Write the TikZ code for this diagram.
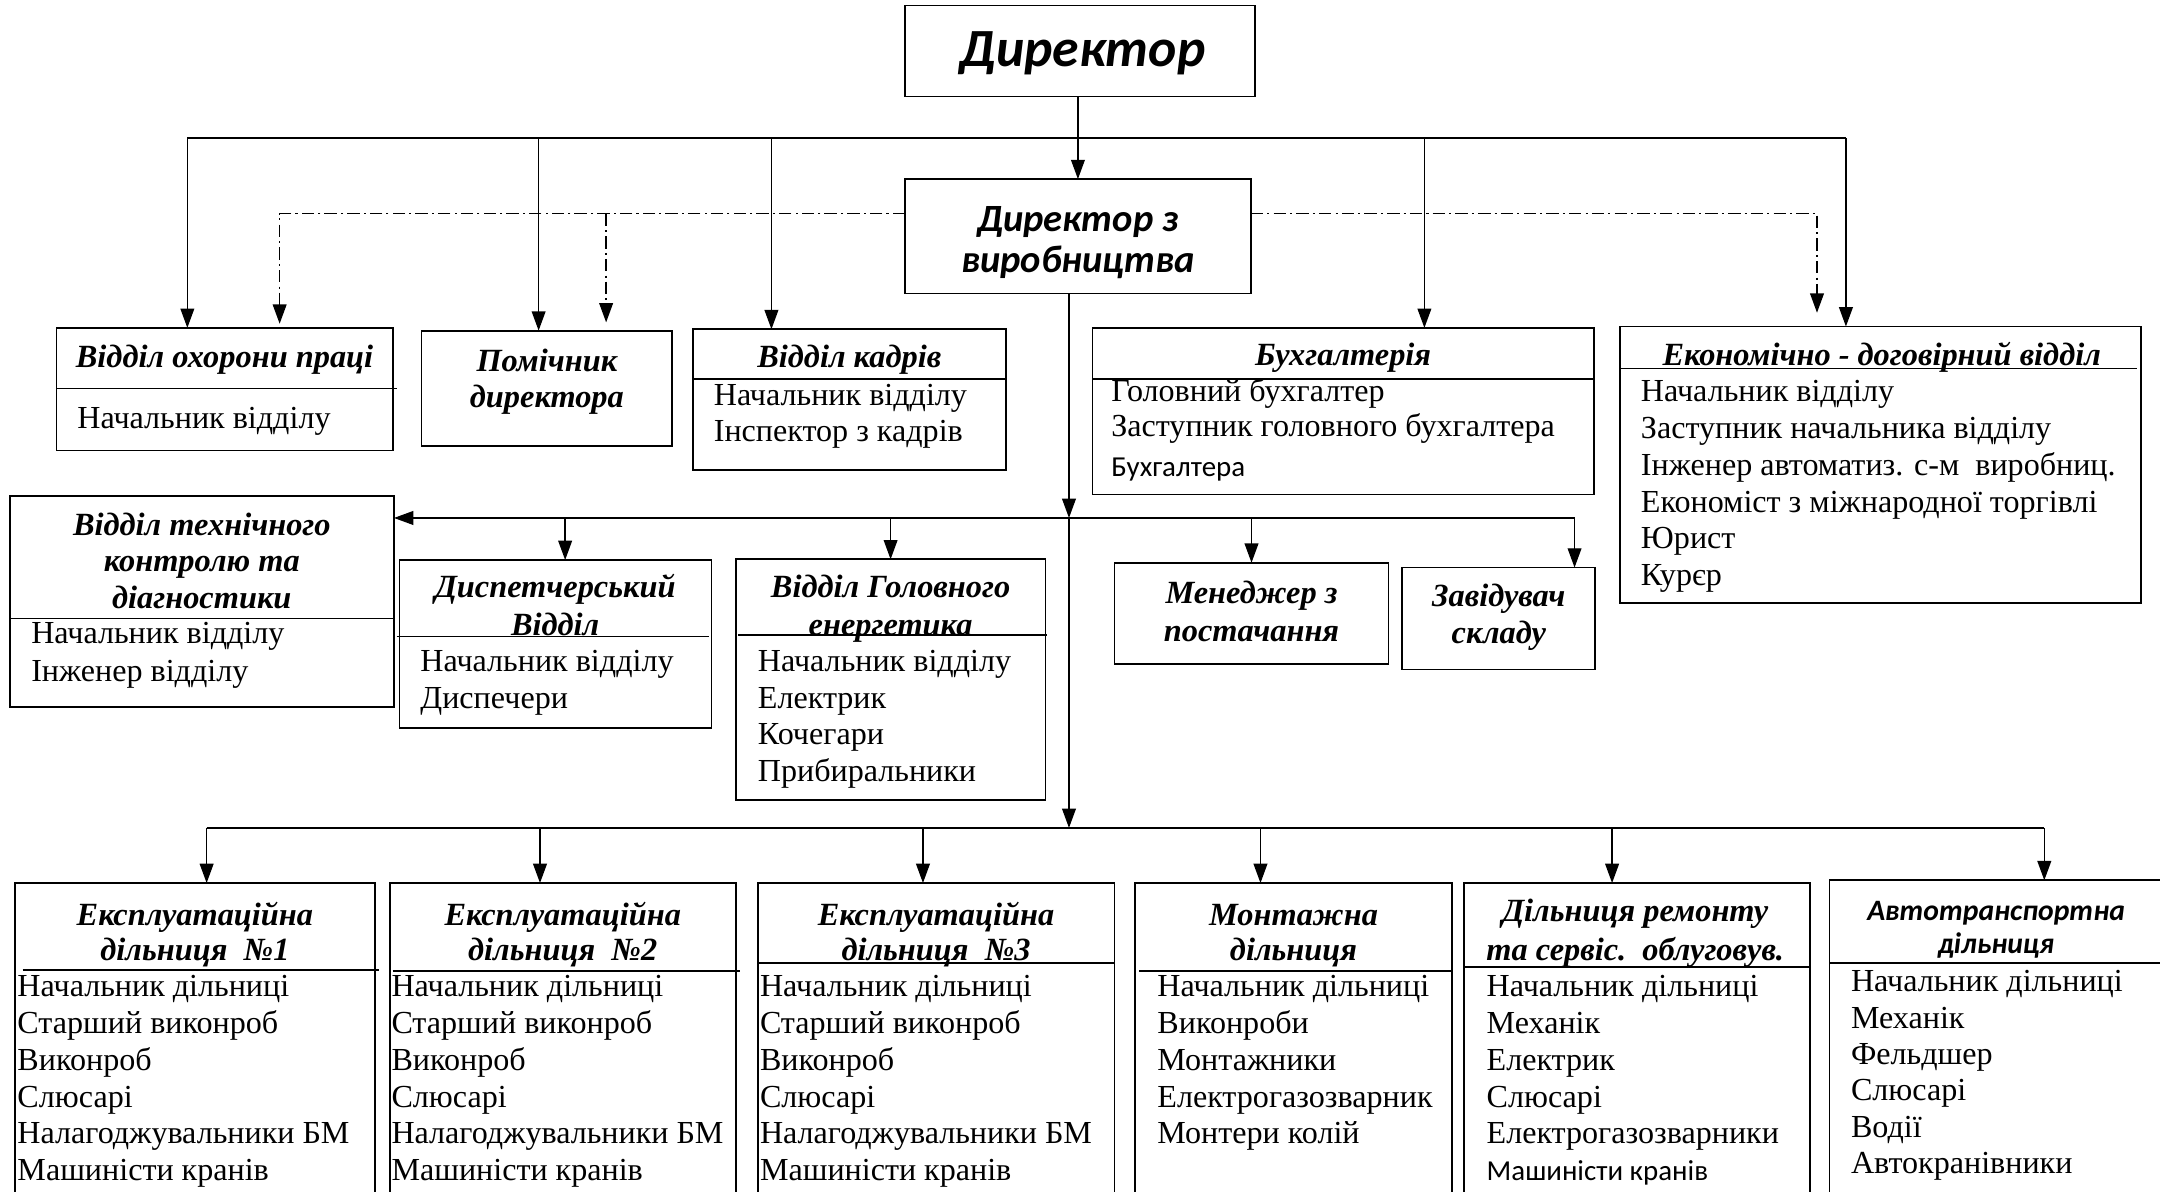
\documentclass[tikz,border=0pt]{standalone}
\usepackage{fontspec}
\setmainfont{Liberation Serif}
\newfontfamily\calfont{Carlito}
\usetikzlibrary{arrows.meta}
\tikzset{
 box/.style={draw, line width=1.3pt, rectangle, inner sep=0pt, outer sep=0pt, anchor=north west},
 divl/.style={line width=1.3pt},
 bus/.style={line width=1.5pt},
 arr/.style={line width=1pt, -{Triangle[length=14pt,width=10pt]}},
 ddarr/.style={line width=1pt, dash pattern=on 9pt off 3pt on 1.5pt off 3pt, -{Triangle[length=14pt,width=10pt]}},
 ttl/.style={font=\fontsize{23.5}{27}\selectfont\bfseries\itshape, inner sep=0pt, anchor=base},
 cttl/.style={font=\calfont\fontsize{21.5}{25}\selectfont\bfseries\itshape, inner sep=0pt, anchor=base},
 itm/.style={font=\fontsize{23.3}{27}\selectfont, inner sep=0pt, anchor=base west},
 sitm/.style={font=\calfont\fontsize{21}{25}\selectfont, inner sep=0pt, anchor=base west},
}
\newcommand\mybox[5]{\node[box, minimum width={(#4-#2)*1pt}, minimum height={(#5-#3)*1pt}] (#1) at (#2,#3) {};}
\newcommand\myitems[5]{\foreach [count=\ii] \itx in {#5} \node[itm] (#1-\ii) at (#2,{#3+#4*(\ii-1)}) {\itx};}
\begin{document}
\begin{tikzpicture}[x=1pt,y=-1pt]
\useasboundingbox (0,0) rectangle (1568,865);
\clip (0,0) rectangle (1568,865);
\fill[white] (0,0) rectangle (1568,865);
% boxes
\mybox{dir}{657}{4}{911}{70}
\mybox{prod}{657}{130}{908}{213}
\mybox{ohor}{41}{238}{285}{327}
\mybox{pom}{306}{240}{488}{324}
\mybox{kadr}{503}{239}{730}{341}
\mybox{buh}{793}{238}{1157}{359}
\mybox{eko}{1176}{237}{1554}{438}
\mybox{tech}{7}{360}{286}{513}
\mybox{disp}{290}{406.5}{516.5}{528.5}
\mybox{energ}{534}{406}{759}{581}
\mybox{men}{809}{408.5}{1008}{482}
\mybox{zav}{1018}{412}{1158}{486}
\mybox{bA}{11}{641}{272}{890}
\mybox{bB}{283}{641}{534}{890}
\mybox{bC}{550}{641}{809}{890}
\mybox{bD}{824}{641}{1054}{890}
\mybox{bE}{1062.5}{641}{1314}{890}
\mybox{bF}{1328}{639}{1580}{890}
% dividers
\draw[divl] (41,282) -- (288,282);
\draw[divl] (503,275) -- (730,275);
\draw[divl] (793,275) -- (1157,275);
\draw[divl] (1176,267.5) -- (1551,267.5);
\draw[divl] (7,449) -- (286,449);
\draw[divl] (288,462) -- (515,462);
\draw[divl] (536,461) -- (760,461);
\draw[divl] (16.5,704) -- (275,704);
\draw[divl] (285,704.6) -- (537,704.6);
\draw[divl] (550,699) -- (809,699);
\draw[divl] (827,705) -- (1054,705);
\draw[divl] (1062.5,701.7) -- (1314,701.7);
\draw[divl] (1328,699) -- (1580,699);
% director texts
\node[font=\calfont\fontsize{39}{44}\selectfont\bfseries\itshape, inner sep=0pt, anchor=base] (dirt) at (786,48) {Директор};
\node[font=\calfont\fontsize{28}{32}\selectfont\bfseries\itshape, inner sep=0pt, anchor=base] (prodt1) at (782.5,168) {Директор з};
\node[font=\calfont\fontsize{28}{32}\selectfont\bfseries\itshape, inner sep=0pt, anchor=base] (prodt2) at (782.5,198) {виробництва};
% titles
\node[ttl] (ohort) at (163,267) {Відділ охорони праці};
\node[ttl] (pomt1) at (397,270) {Помічник};
\node[ttl] (pomt2) at (397,296) {директора};
\node[ttl] (kadrt) at (616.5,267) {Відділ кадрів};
\node[ttl] (buht) at (975,265) {Бухгалтерія};
\node[ttl] (ekot) at (1366,265) {Економічно - договірний відділ};
\node[ttl] (techt1) at (146.5,388.5) {Відділ технічного};
\node[ttl] (techt2) at (146.5,415) {контролю та};
\node[ttl] (techt3) at (146.5,441.5) {діагностики};
\node[ttl] (dispt1) at (403,434) {Диспетчерський};
\node[ttl] (dispt2) at (403,461) {Відділ};
\node[ttl] (energt1) at (646.5,434) {Відділ Головного};
\node[ttl] (energt2) at (646.5,461) {енергетика};
\node[ttl] (ment1) at (908.5,438) {Менеджер з};
\node[ttl] (ment2) at (908.5,465.8) {постачання};
\node[ttl] (zavt1) at (1088,440) {Завідувач};
\node[ttl] (zavt2) at (1088,467) {складу};
\node[ttl] (bAt1) at (141.5,671.5) {Експлуатаційна};
\node[ttl] (bAt2) at (141.5,697) {дільниця\ \ №1};
\node[ttl] (bBt1) at (408.5,671.5) {Експлуатаційна};
\node[ttl] (bBt2) at (408.5,697) {дільниця\ \ №2};
\node[ttl] (bCt1) at (679.5,671.5) {Експлуатаційна};
\node[ttl] (bCt2) at (679.5,697) {дільниця\ \ №3};
\node[ttl] (bDt1) at (939,671.5) {Монтажна};
\node[ttl] (bDt2) at (939,697) {дільниця};
\node[ttl] (bEt1) at (1187,669) {Дільниця ремонту};
\node[ttl] (bEt2) at (1187,697) {та сервіс.\ \ облуговув.};
\node[cttl] (bFt1) at (1449,668) {Автотранспортна};
\node[cttl] (bFt2) at (1449,692) {дільниця};
% items
\myitems{ohori}{56}{311}{26.6}{Начальник відділу}
\myitems{kadri}{518}{294}{26.6}{Начальник відділу,Інспектор з кадрів}
\myitems{buhi}{806.5}{291.6}{25.5}{Головний бухгалтер,Заступник головного бухгалтера}
\node[sitm] (buhi-3) at (806.5,346) {Бухгалтера};
\myitems{ekoi}{1191}{291.6}{26.7}{Начальник відділу,Заступник начальника відділу,Інженер автоматиз. с-м\ \ виробниц.,Економіст з міжнародної торгівлі,Юрист,Курєр}
\myitems{techi}{22.5}{467}{28}{Начальник відділу,Інженер відділу}
\myitems{dispi}{305}{487.6}{26.6}{Начальник відділу,Диспечери}
\myitems{energi}{550}{487.6}{26.6}{Начальник відділу,Електрик,Кочегари,Прибиральники}
\myitems{bAi}{12.5}{723.5}{26.7}{Начальник дільниці,Старший виконроб,Виконроб,Слюсарі,Налагоджувальники БМ,Машиністи кранів}
\myitems{bBi}{284}{723.5}{26.7}{Начальник дільниці,Старший виконроб,Виконроб,Слюсарі,Налагоджувальники БМ,Машиністи кранів}
\myitems{bCi}{551.5}{723.5}{26.7}{Начальник дільниці,Старший виконроб,Виконроб,Слюсарі,Налагоджувальники БМ,Машиністи кранів}
\myitems{bDi}{840}{723.5}{26.7}{Начальник дільниці,Виконроби,Монтажники,Електрогазозварник,Монтери колій}
\myitems{bEi}{1079}{723.5}{26.7}{Начальник дільниці,Механік,Електрик,Слюсарі,Електрогазозварники}
\node[sitm] (bEi-6) at (1079,856.6) {Машиністи кранів};
\myitems{bFi}{1343.5}{720}{26.35}{Начальник дільниці,Механік,Фельдшер,Слюсарі,Водії,Автокранівники}
% connectors
\coordinate (busT) at (782,100);
\coordinate (busD) at (782,155);
\coordinate (busM) at (776,376);
\coordinate (busB) at (776,601);
\draw[arr] (prod.north |- dir.south) -- (prod.north);
\draw[bus] ([xshift=-27pt]ohor.north |- busT) -- ([xshift=-25pt]eko.north |- busT);
\draw[arr] ([xshift=-27pt]ohor.north |- busT) -- ([xshift=-27pt]ohor.north);
\draw[arr] ([xshift=-6pt]pom.north |- busT) -- ([xshift=-6pt]pom.north);
\draw[arr] ([xshift=-56.5pt]kadr.north |- busT) -- ([xshift=-56.5pt]kadr.north);
\draw[arr] ([xshift=59pt]buh.north |- busT) -- ([xshift=59pt]buh.north);
\draw[arr] ([xshift=-25pt]eko.north |- busT) -- ([xshift=-25pt]eko.north);
\draw[ddarr, shorten >=3pt] (prod.west |- busD) -| ([xshift=40pt]ohor.north);
\draw[ddarr, shorten >=6pt] ([xshift=43pt]pom.north |- busD) -- ([xshift=43pt]pom.north);
\draw[ddarr, shorten >=10pt] (prod.east |- busD) -| ([xshift=-46pt]eko.north);
\draw[arr] ([xshift=-6.5pt]prod.south) -- (busM);
\draw[arr] (busM) -- (busB);
\draw[bus] ([xshift=39pt]tech.north east |- busM) -- ([xshift=55pt]zav.north |- busM);
\draw[arr] ([xshift=39pt]tech.north east |- busM) -- (tech.north east |- busM);
\draw[arr] ([xshift=7pt]disp.north |- busM) -- ([xshift=7pt]disp.north);
\draw[arr] (energ.north |- busM) -- (energ.north);
\draw[arr] (men.north |- busM) -- (men.north);
\draw[arr] ([xshift=55pt]zav.north |- busM) -- ([xshift=55pt]zav.north);
\draw[bus] ([xshift=8.5pt]bA.north |- busB) -- ([xshift=30pt]bF.north |- busB);
\draw[arr] ([xshift=8.5pt]bA.north |- busB) -- ([xshift=8.5pt]bA.north);
\draw[arr] ([xshift=-16.5pt]bB.north |- busB) -- ([xshift=-16.5pt]bB.north);
\draw[arr] ([xshift=-9.5pt]bC.north |- busB) -- ([xshift=-9.5pt]bC.north);
\draw[arr] ([xshift=-24pt]bD.north |- busB) -- ([xshift=-24pt]bD.north);
\draw[arr] ([xshift=-18pt]bE.north |- busB) -- ([xshift=-18pt]bE.north);
\draw[arr] ([xshift=30pt]bF.north |- busB) -- ([xshift=30pt]bF.north);
\end{tikzpicture}
\end{document}
